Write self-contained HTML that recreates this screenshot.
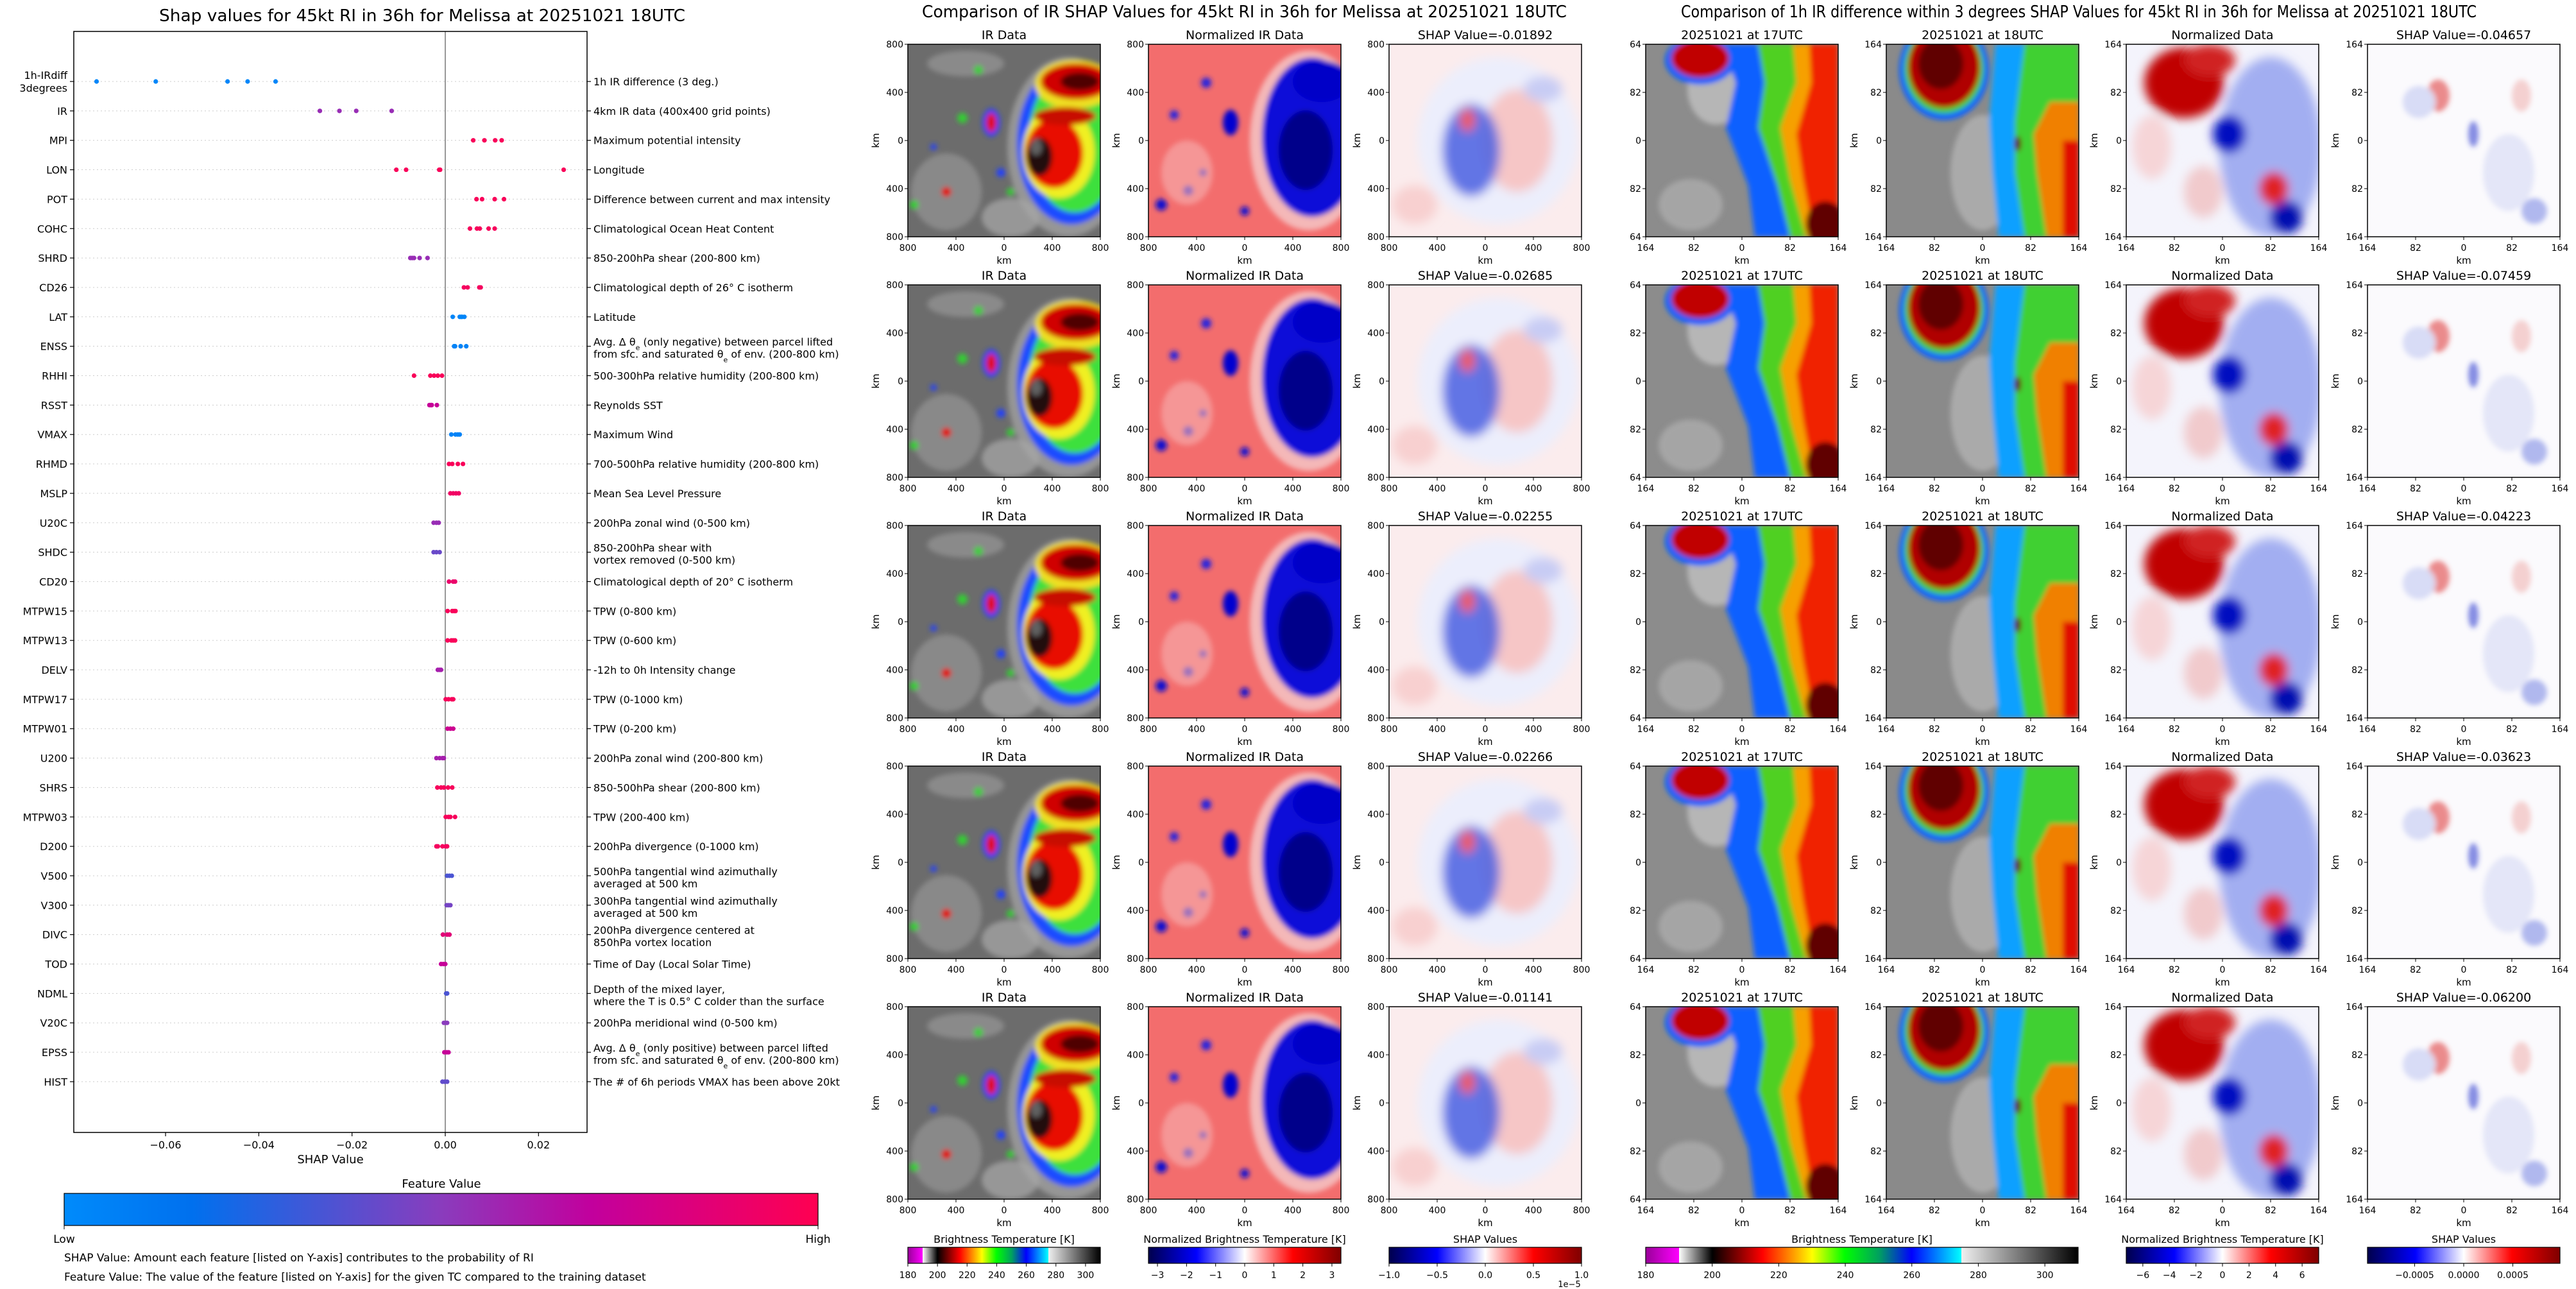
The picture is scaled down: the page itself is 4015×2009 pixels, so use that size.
<!DOCTYPE html>
<html><head><meta charset="utf-8"><title>SHAP RI Melissa</title>
<style>
html,body{margin:0;padding:0;background:#fff;}
svg{display:block;font-family:"DejaVu Sans","Liberation Sans",sans-serif;}
</style></head>
<body>
<svg id="fig" xmlns="http://www.w3.org/2000/svg" xmlns:xlink="http://www.w3.org/1999/xlink" width="4015" height="2009" viewBox="0 0 4015 2009">
<defs>
<filter id="b4" x="-20%" y="-20%" width="140%" height="140%"><feGaussianBlur stdDeviation="4"/></filter>
<filter id="b8" x="-20%" y="-20%" width="140%" height="140%"><feGaussianBlur stdDeviation="8"/></filter>
<linearGradient id="featGrad" x1="0" x2="1" y1="0" y2="0">
<stop offset="0" stop-color="#008bfb"/><stop offset="0.17" stop-color="#0070ee"/><stop offset="0.5" stop-color="#8a3cbd"/><stop offset="0.7" stop-color="#c2009d"/><stop offset="1" stop-color="#ff0051"/>
</linearGradient>
<linearGradient id="btGrad" x1="0" x2="1" y1="0" y2="0">
<stop offset="0" stop-color="#9a009a"/><stop offset="0.077" stop-color="#ff00ff"/><stop offset="0.077" stop-color="#ffffff"/><stop offset="0.154" stop-color="#000000"/><stop offset="0.27" stop-color="#ff0000"/><stop offset="0.34" stop-color="#ff9900"/><stop offset="0.385" stop-color="#ffff00"/><stop offset="0.46" stop-color="#00ff00"/><stop offset="0.54" stop-color="#00a060"/><stop offset="0.615" stop-color="#0000ff"/><stop offset="0.73" stop-color="#00ffff"/><stop offset="0.73" stop-color="#f0f0f0"/><stop offset="1" stop-color="#000000"/>
</linearGradient>
<linearGradient id="seisGrad" x1="0" x2="1" y1="0" y2="0">
<stop offset="0" stop-color="#00004c"/><stop offset="0.25" stop-color="#0000ff"/><stop offset="0.5" stop-color="#ffffff"/><stop offset="0.75" stop-color="#ff0000"/><stop offset="1" stop-color="#7f0000"/>
</linearGradient>

<symbol id="sym-ir" viewBox="0 0 300 300" preserveAspectRatio="none">
<rect width="300" height="300" fill="#6c6c6c"/>
<g filter="url(#b4)">
<ellipse cx="60" cy="230" rx="55" ry="60" fill="#9c9c9c" opacity="0.6"/>
<ellipse cx="160" cy="270" rx="45" ry="30" fill="#b4b4b4" opacity="0.6"/>
<ellipse cx="90" cy="30" rx="60" ry="20" fill="#8a8a8a"/>
<ellipse cx="250" cy="160" rx="95" ry="140" fill="#a8a8a8" opacity="0.7"/>
<ellipse cx="255" cy="155" rx="85" ry="126" fill="#1a4cff"/>
<ellipse cx="260" cy="150" rx="72" ry="112" fill="#3ee03e"/>
<ellipse cx="235" cy="168" rx="56" ry="72" fill="#f0f020"/>
<ellipse cx="260" cy="62" rx="62" ry="38" fill="#f0e020"/>
<ellipse cx="228" cy="170" rx="45" ry="54" fill="#e81000"/>
<ellipse cx="262" cy="58" rx="55" ry="28" fill="#d00000"/>
<ellipse cx="245" cy="112" rx="48" ry="14" fill="#c81000"/>
<ellipse cx="268" cy="58" rx="30" ry="14" fill="#500000"/>
<ellipse cx="205" cy="175" rx="20" ry="30" fill="#200808"/>
<ellipse cx="200" cy="160" rx="9" ry="13" fill="#606060"/>
<ellipse cx="130" cy="122" rx="14" ry="22" fill="#2040ff"/>
<ellipse cx="130" cy="122" rx="8" ry="15" fill="#e01000"/>
<circle cx="85" cy="115" r="8" fill="#30d030"/>
<circle cx="110" cy="40" r="7" fill="#30d030"/>
<circle cx="60" cy="230" r="8" fill="#e01000"/>
<circle cx="10" cy="250" r="7" fill="#30d030"/>
<circle cx="145" cy="200" r="7" fill="#2040ff"/>
<circle cx="160" cy="230" r="6" fill="#30d030"/>
<circle cx="40" cy="160" r="5" fill="#2040ff"/>
</g>
</symbol>

<symbol id="sym-nir" viewBox="0 0 300 300" preserveAspectRatio="none">
<rect width="300" height="300" fill="#f36d6d"/>
<g filter="url(#b4)">
<ellipse cx="250" cy="150" rx="92" ry="140" fill="#f4b8b8"/>
<ellipse cx="255" cy="145" rx="78" ry="124" fill="#0a0ad8"/>
<ellipse cx="245" cy="165" rx="42" ry="62" fill="#00008a"/>
<ellipse cx="270" cy="58" rx="45" ry="32" fill="#0000c8"/>
<ellipse cx="128" cy="122" rx="12" ry="20" fill="#0000d0"/>
<circle cx="20" cy="250" r="9" fill="#1010d0"/>
<circle cx="62" cy="228" r="8" fill="#1010d0"/>
<circle cx="85" cy="200" r="6" fill="#1010d0"/>
<circle cx="90" cy="60" r="8" fill="#2020e0"/>
<circle cx="40" cy="110" r="7" fill="#2020e0"/>
<circle cx="150" cy="260" r="7" fill="#1010d0"/>
<ellipse cx="60" cy="200" rx="40" ry="50" fill="#f6b0b0" opacity="0.6"/>
</g>
</symbol>

<symbol id="sym-s1" viewBox="0 0 300 300" preserveAspectRatio="none">
<rect width="300" height="300" fill="#fbeced"/>
<g filter="url(#b8)">
<ellipse cx="170" cy="150" rx="125" ry="130" fill="#eceefc"/>
<ellipse cx="200" cy="150" rx="55" ry="80" fill="#f6c6c6"/>
<ellipse cx="128" cy="165" rx="45" ry="72" fill="#4a5fe0" opacity="0.85"/>
<ellipse cx="122" cy="118" rx="12" ry="18" fill="#ef5a5a"/>
<ellipse cx="240" cy="70" rx="30" ry="20" fill="#c8ccf4"/>
<ellipse cx="40" cy="250" rx="35" ry="30" fill="#f8d0d0"/>
</g>
</symbol>

<symbol id="sym-h17" viewBox="0 0 300 300" preserveAspectRatio="none">
<rect width="300" height="300" fill="#8c8c8c"/>
<g filter="url(#b4)">
<ellipse cx="110" cy="70" rx="45" ry="55" fill="#c8c8c8" opacity="0.7"/>
<ellipse cx="70" cy="250" rx="50" ry="40" fill="#b0b0b0" opacity="0.7"/>
<path d="M120,0 L300,0 L300,300 L170,300 L160,220 L125,130 L140,60 Z" fill="#1060ff"/>
<path d="M175,0 L300,0 L300,300 L225,300 L205,220 L175,130 L185,60 Z" fill="#50d020"/>
<path d="M230,0 L300,0 L300,300 L250,300 L225,210 L210,130 L235,60 Z" fill="#f6a000"/>
<path d="M255,0 L300,0 L300,300 L262,300 L245,210 L235,140 L258,60 Z" fill="#f02000"/>
<ellipse cx="85" cy="25" rx="55" ry="38" fill="#1060ff"/>
<ellipse cx="85" cy="22" rx="45" ry="30" fill="#c00000"/>
<ellipse cx="280" cy="280" rx="30" ry="35" fill="#600000"/>
</g>
</symbol>

<symbol id="sym-h18" viewBox="0 0 300 300" preserveAspectRatio="none">
<rect width="300" height="300" fill="#8a8a8a"/>
<g filter="url(#b4)">
<ellipse cx="150" cy="200" rx="50" ry="90" fill="#b8b8b8" opacity="0.7"/>
<ellipse cx="90" cy="40" rx="70" ry="78" fill="#1060ff"/>
<ellipse cx="90" cy="38" rx="62" ry="70" fill="#40d030"/>
<ellipse cx="90" cy="35" rx="56" ry="64" fill="#b00000"/>
<ellipse cx="85" cy="30" rx="35" ry="40" fill="#600000"/>
<path d="M170,0 L300,0 L300,300 L175,300 L165,200 L160,120 Z" fill="#10a0ff"/>
<path d="M215,0 L300,0 L300,300 L215,300 L200,200 L200,120 Z" fill="#40d030"/>
<path d="M255,90 L300,90 L300,300 L250,300 L235,200 L230,140 Z" fill="#f08000"/>
<path d="M275,150 L300,150 L300,300 L275,300 Z" fill="#e01000"/>
<ellipse cx="205" cy="155" rx="5" ry="12" fill="#600000"/>
</g>
</symbol>

<symbol id="sym-nd" viewBox="0 0 300 300" preserveAspectRatio="none">
<rect width="300" height="300" fill="#f4f4fc"/>
<g filter="url(#b8)">
<ellipse cx="225" cy="160" rx="80" ry="140" fill="#6c80ea" opacity="0.6"/>
<ellipse cx="90" cy="60" rx="62" ry="55" fill="#c00000"/>
<ellipse cx="130" cy="25" rx="40" ry="25" fill="#d02020"/>
<ellipse cx="160" cy="140" rx="25" ry="28" fill="#0010c0"/>
<ellipse cx="250" cy="270" rx="25" ry="25" fill="#0010b0"/>
<ellipse cx="230" cy="225" rx="22" ry="25" fill="#e02020"/>
<ellipse cx="40" cy="160" rx="30" ry="50" fill="#f6c8c8" opacity="0.7"/>
<ellipse cx="120" cy="230" rx="30" ry="40" fill="#f0b8b8" opacity="0.7"/>
</g>
</symbol>

<symbol id="sym-s2" viewBox="0 0 300 300" preserveAspectRatio="none">
<rect width="300" height="300" fill="#fbfafd"/>
<g filter="url(#b4)">
<ellipse cx="110" cy="80" rx="18" ry="25" fill="#e04040" opacity="0.6"/>
<ellipse cx="165" cy="140" rx="8" ry="20" fill="#3040d0" opacity="0.6"/>
<ellipse cx="80" cy="90" rx="25" ry="25" fill="#d8dcf6"/>
<ellipse cx="220" cy="200" rx="40" ry="60" fill="#e4e6f8"/>
<ellipse cx="260" cy="260" rx="20" ry="20" fill="#b0b8ee"/>
<ellipse cx="240" cy="80" rx="15" ry="25" fill="#f4d0d0"/>
</g>
</symbol>

<clipPath id="clipMid"><rect x="1335" y="0" width="1200" height="2009"/></clipPath>
<clipPath id="clipRight"><rect x="2540" y="0" width="1475" height="2009"/></clipPath>
</defs>
<rect width="4015" height="2009" fill="#ffffff"/>
<g id="left"></g>
<g id="mid" clip-path="url(#clipMid)"></g>
<g id="right" clip-path="url(#clipRight)"></g>
</svg>

<script>
// ---- SHAP summary data ----
const features = ['1h-IRdiff\n3degrees','IR','MPI','LON','POT','COHC','SHRD','CD26','LAT','ENSS','RHHI','RSST','VMAX','RHMD','MSLP','U20C','SHDC','CD20','MTPW15','MTPW13','DELV','MTPW17','MTPW01','U200','SHRS','MTPW03','D200','V500','V300','DIVC','TOD','NDML','V20C','EPSS','HIST'];
const descriptions = [
 '1h IR difference (3 deg.)','4km IR data (400x400 grid points)','Maximum potential intensity','Longitude','Difference between current and max intensity','Climatological Ocean Heat Content','850-200hPa shear (200-800 km)','Climatological depth of 26° C isotherm','Latitude',
 'Avg. Δ θ<tspan baseline-shift="sub" font-size="11">e</tspan> (only negative) between parcel lifted\nfrom sfc. and saturated θ<tspan baseline-shift="sub" font-size="11">e</tspan> of env. (200-800 km)',
 '500-300hPa relative humidity (200-800 km)','Reynolds SST','Maximum Wind','700-500hPa relative humidity (200-800 km)','Mean Sea Level Pressure','200hPa zonal wind (0-500 km)','850-200hPa shear with\nvortex removed (0-500 km)','Climatological depth of 20° C isotherm','TPW (0-800 km)','TPW (0-600 km)','-12h to 0h Intensity change','TPW (0-1000 km)','TPW (0-200 km)','200hPa zonal wind (200-800 km)','850-500hPa shear (200-800 km)','TPW (200-400 km)','200hPa divergence (0-1000 km)',
 '500hPa tangential wind azimuthally\naveraged at 500 km','300hPa tangential wind azimuthally\naveraged at 500 km','200hPa divergence centered at\n850hPa vortex location','Time of Day (Local Solar Time)','Depth of the mixed layer,\nwhere the T is 0.5° C colder than the surface','200hPa meridional wind (0-500 km)',
 'Avg. Δ θ<tspan baseline-shift="sub" font-size="11">e</tspan> (only positive) between parcel lifted\nfrom sfc. and saturated θ<tspan baseline-shift="sub" font-size="11">e</tspan> of env. (200-800 km)',
 'The # of 6h periods VMAX has been above 20kt'];
const shapValues = [
 [-0.0748,-0.0621,-0.0467,-0.0424,-0.0364],
 [-0.0269,-0.0227,-0.0191,-0.0115],
 [0.0060,0.0084,0.0107,0.0121],
 [-0.0105,-0.0084,-0.0013,-0.0011,0.0254],
 [0.0067,0.0079,0.0106,0.0126],
 [0.0053,0.0068,0.0074,0.0093,0.0106],
 [-0.0075,-0.0071,-0.0067,-0.0055,-0.0038],
 [0.0040,0.0048,0.0073,0.0076],
 [0.0016,0.0031,0.0034,0.0036,0.0041],
 [0.0019,0.0021,0.0033,0.0045],
 [-0.0067,-0.0032,-0.0024,-0.0016,-0.0007],
 [-0.0034,-0.0031,-0.0029,-0.0018],
 [0.0013,0.0022,0.0027,0.0031],
 [0.0008,0.0015,0.0027,0.0038],
 [0.0011,0.0017,0.0023,0.0029],
 [-0.0025,-0.0019,-0.0014],
 [-0.0025,-0.0019,-0.0012],
 [0.0008,0.0017,0.0021],
 [0.0005,0.0015,0.0019,0.0022],
 [0.0005,0.0013,0.0017,0.0021],
 [-0.0016,-0.0012,-0.0009],
 [0.0001,0.0007,0.0014,0.0017],
 [0.0005,0.0011,0.0017],
 [-0.0019,-0.0012,-0.0006,-0.0003],
 [-0.0017,-0.0009,-0.0003,0.0006,0.0015],
 [0.0001,0.0007,0.0011,0.0021],
 [-0.0019,-0.0016,-0.0006,0.0001,0.0004],
 [0.0004,0.0009,0.0014],
 [0.0003,0.0007,0.0011],
 [-0.0005,0.0004,0.0009],
 [-0.0009,-0.0004,0.0000],
 [0.0002,0.0004],
 [-0.0003,0.0001,0.0004],
 [-0.0002,0.0003,0.0007],
 [-0.0006,-0.0001,0.0004]];
const featureValues = [0.03,0.55,0.97,0.97,0.97,0.96,0.55,0.95,0.04,0.05,0.97,0.72,0.05,0.97,0.93,0.55,0.42,0.9,0.97,0.97,0.6,0.96,0.75,0.6,0.96,0.96,0.95,0.35,0.45,0.85,0.72,0.35,0.5,0.72,0.4];
const xTickValues = [-0.06,-0.04,-0.02,0.00,0.02];
const xTickLabels = ['\u22120.06','\u22120.04','\u22120.02','0.00','0.02'];

// ---- image panel data ----
const irShapTitles = ['SHAP Value=-0.01892','SHAP Value=-0.02685','SHAP Value=-0.02255','SHAP Value=-0.02266','SHAP Value=-0.01141'];
const diffShapTitles = ['SHAP Value=-0.04657','SHAP Value=-0.07459','SHAP Value=-0.04223','SHAP Value=-0.03623','SHAP Value=-0.06200'];
const irTickLabels = ['800','400','0','400','800'];
const diffTickLabels = ['164','82','0','82','164'];
const btTicks = [180,200,220,240,260,280,300];
const nirTicks = [-3,-2,-1,0,1,2,3];
const shapCbTicks = [-1.0,-0.5,0.0,0.5,1.0];
const ndTicks = [-6,-4,-2,0,2,4,6];
const shap2Ticks = [-0.0005,0.0000,0.0005];

const NS='http://www.w3.org/2000/svg';
function mk(tag,attrs,parent){const e=document.createElementNS(NS,tag);for(const k in attrs)e.setAttribute(k,attrs[k]);parent.appendChild(e);return e;}
function txt(parent,x,y,s,size,anchor,extra){const t=mk('text',Object.assign({x:x,y:y,'font-size':size,'text-anchor':anchor||'middle',fill:'#000'},extra||{}),parent);t.textContent=s;return t;}

// ===== LEFT: SHAP summary =====
const L=document.getElementById('left');
const AX0=115, AX1=915, AY0=49, AY1=1765, ZERO=694, PPU=7266;
const xs=v=>ZERO+v*PPU;
const ys=i=>127+i*45.85;
function lerpColor(t){
  const st=[[0,[0,139,251]],[0.17,[0,112,238]],[0.5,[138,60,189]],[0.7,[194,0,157]],[1,[255,0,81]]];
  for(let k=1;k<st.length;k++){if(t<=st[k][0]){const a=st[k-1],b=st[k];const f=(t-a[0])/(b[0]-a[0]);return 'rgb('+a[1].map((c,j)=>Math.round(c+(b[1][j]-c)*f)).join(',')+')';}}
  return 'rgb(255,0,81)';
}
let tt=txt(L,248,33,'Shap values for 45kt RI in 36h for Melissa at 20251021 18UTC',26,'start',{textLength:820,lengthAdjust:'spacingAndGlyphs'});


features.forEach((f,i)=>{
  const y=ys(i);
  const g=mk('line',{x1:AX0,x2:AX1,y1:y,y2:y,stroke:'#cccccc','stroke-width':1,'stroke-dasharray':'2,4'},L);
  
  
});
let zl=mk('line',{x1:ZERO,x2:ZERO,y1:AY0,y2:AY1,stroke:'#999999','stroke-width':2},L);


features.forEach((f,i)=>{
  const y=ys(i);
  const col=lerpColor(featureValues[i]);
  shapValues[i].forEach(v=>{
    const d=mk('ellipse',{cx:xs(v),cy:y,rx:3.6,ry:3.6,fill:col},L);
    
    
  });
  mk('line',{x1:AX0-6,x2:AX0,y1:y,y2:y,stroke:'#000','stroke-width':1.2},L);
  const lines=f.split('\n');
  lines.forEach((s,k)=>{
    const yy = lines.length>1 ? y-4+k*20 : y+6;
    const t=txt(L,AX0-10,yy,s,16,'end');
    
    
  });
  mk('line',{x1:AX1,x2:AX1+6,y1:y,y2:y,stroke:'#000','stroke-width':1.2},L);
  const dl=descriptions[i].split('\n');
  dl.forEach((s,k)=>{
    const yy = dl.length>1 ? y-1+k*19 : y+6;
    const t=mk('text',{x:AX1+10,y:yy,'font-size':16,fill:'#000'},L);
    t.innerHTML=s;
    
    
  });
});
let fr=mk('rect',{x:AX0,y:AY0,width:AX1-AX0,height:AY1-AY0,fill:'none',stroke:'#000','stroke-width':1.5},L);


xTickValues.forEach((v,k)=>{
  mk('line',{x1:xs(v),x2:xs(v),y1:AY1,y2:AY1+6,stroke:'#000','stroke-width':1.2},L);
  const t=txt(L,xs(v),1790,xTickLabels[k],16,'middle');
  
  
});
let xl=txt(L,515,1813,'SHAP Value',18,'middle');


let fvl=txt(L,688,1851,'Feature Value',18,'middle');


let fcb=mk('rect',{x:100,y:1860,width:1175,height:50,fill:'url(#featGrad)',stroke:'#000','stroke-width':1.2},L);


mk('line',{x1:100,x2:100,y1:1910,y2:1916,stroke:'#000'},L);
mk('line',{x1:1275,x2:1275,y1:1910,y2:1916,stroke:'#000'},L);
let lo=txt(L,100,1937,'Low',17,'middle');


let hi=txt(L,1275,1937,'High',17,'middle');


let n1=txt(L,100,1966,'SHAP Value: Amount each feature [listed on Y-axis] contributes to the probability of RI',17,'start');


let n2=txt(L,100,1996,'Feature Value: The value of the feature [listed on Y-axis] for the given TC compared to the training dataset',17,'start');



// ===== image panels =====
const rowsY=[69,444,819,1194,1569];
const S=300;
function panel(parent,x,y,sym,title,ticks,name,showYLabel){
  const g=mk('g',{},parent);
  
  
  const u=mk('use',{href:'#'+sym,x:x,y:y,width:S,height:S},g);
  
  
  mk('rect',{x:x,y:y,width:S,height:S,fill:'none',stroke:'#000','stroke-width':1.5},g);
  const t=txt(g,x+S/2,y-8,title,19,'middle');
  
  
  ticks.forEach((lab,k)=>{
    const p=k*S/(ticks.length-1);
    mk('line',{x1:x+p,x2:x+p,y1:y+S,y2:y+S+5,stroke:'#000'},g);
    const a=txt(g,x+p,y+S+22,lab,14,'middle');
    
    
    mk('line',{x1:x-5,x2:x,y1:y+p,y2:y+p,stroke:'#000'},g);
    const b=txt(g,x-7,y+p+5,lab,14,'end');
    
    
  });
  const xk=txt(g,x+S/2,y+S+42,'km',15,'middle');
  
  
  if(showYLabel){
    const yk=txt(g,0,0,'km',15,'middle',{transform:'translate('+(x-45)+','+(y+S/2)+') rotate(-90)'});
    
    
  }
}
const M=document.getElementById('mid');
let mt=txt(M,1437,27,'Comparison of IR SHAP Values for 45kt RI in 36h for Melissa at 20251021 18UTC',26,'start',{textLength:1005,lengthAdjust:'spacingAndGlyphs'});


const midCols=[1415,1790,2165];
rowsY.forEach((y,r)=>{
  panel(M,midCols[0],y,'sym-ir','IR Data',irTickLabels,'ir-data-panel',true);
  panel(M,midCols[1],y,'sym-nir','Normalized IR Data',irTickLabels,'normalized-ir-panel',true);
  panel(M,midCols[2],y,'sym-s1',irShapTitles[r],irTickLabels,'ir-shap-panel',true);
});
const R=document.getElementById('right');
let rt=txt(R,2620,27,'Comparison of 1h IR difference within 3 degrees SHAP Values for 45kt RI in 36h for Melissa at 20251021 18UTC',26,'start',{textLength:1240,lengthAdjust:'spacingAndGlyphs'});


const rightCols=[2565,2940,3314,3690];
rowsY.forEach((y,r)=>{
  panel(R,rightCols[0],y,'sym-h17','20251021 at 17UTC',diffTickLabels,'ir-17utc-panel',true);
  panel(R,rightCols[1],y,'sym-h18','20251021 at 18UTC',diffTickLabels,'ir-18utc-panel',true);
  panel(R,rightCols[2],y,'sym-nd','Normalized Data',diffTickLabels,'normalized-diff-panel',true);
  panel(R,rightCols[3],y,'sym-s2',diffShapTitles[r],diffTickLabels,'diff-shap-panel',true);
});

function colorbar(parent,x,w,grad,title,ticks,vmin,vmax,fmt,name){
  const g=mk('g',{},parent);
  
  
  const t=txt(g,x+w/2,1937,title,16,'middle');
  
  
  mk('rect',{x:x,y:1944,width:w,height:25,fill:'url(#'+grad+')',stroke:'#000','stroke-width':1.2},g);
  ticks.forEach(v=>{
    const px=x+(v-vmin)/(vmax-vmin)*w;
    mk('line',{x1:px,x2:px,y1:1969,y2:1974,stroke:'#000'},g);
    const l=txt(g,px,1992,fmt(v),14,'middle');
    
    
  });
}
const minus=s=>s.replace('-','\u2212');
colorbar(M,1415,300,'btGrad','Brightness Temperature [K]',btTicks,180,310,v=>String(v),'brightness-colorbar');
colorbar(M,1790,300,'seisGrad','Normalized Brightness Temperature [K]',nirTicks,-3.31,3.31,v=>minus(String(v)),'normalized-ir-colorbar');
colorbar(M,2165,300,'seisGrad','SHAP Values',shapCbTicks,-1,1,v=>minus(v.toFixed(1)),'ir-shap-colorbar');
let ex=txt(M,2446,2006,'1e\u22125',13,'middle');


colorbar(R,2565,674,'btGrad','Brightness Temperature [K]',btTicks,180,310,v=>String(v),'diff-brightness-colorbar');
colorbar(R,3314,300,'seisGrad','Normalized Brightness Temperature [K]',ndTicks,-7.25,7.25,v=>minus(String(v)),'normalized-diff-colorbar');
colorbar(R,3690,300,'seisGrad','SHAP Values',shap2Ticks,-0.00098,0.00098,v=>minus(v.toFixed(4)),'diff-shap-colorbar');
</script>
</body></html>
